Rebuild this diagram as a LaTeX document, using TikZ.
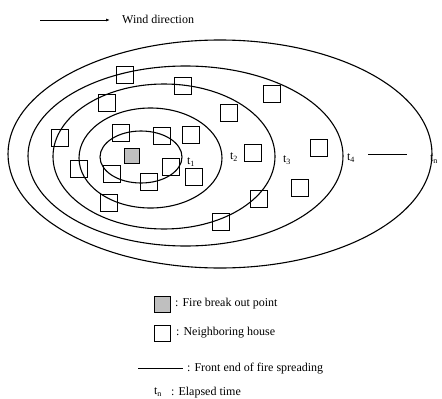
\documentclass[tikz,border=0pt]{standalone}
\usepackage{fontspec}
\setmainfont{Liberation Serif}
\usetikzlibrary{shapes,arrows.meta,positioning}

\tikzset{
  house/.style={rectangle, draw, line width=0.9pt, minimum size=17pt, inner sep=0pt},
  firept/.style={rectangle, draw, line width=0.9pt, fill=gray!50, minimum size=15pt, inner sep=0pt},
  front/.style={ellipse, draw, line width=1.1pt, inner sep=0pt},
  lbl/.style={font=\fontsize{12}{14}\selectfont, inner sep=0pt}
}

\begin{document}
\begin{tikzpicture}[x=1pt,y=-1pt]
\useasboundingbox (0,0) rectangle (442,399);

% wind
\coordinate (windstart) at (40,20);
\coordinate (windend) at (110,20);
\draw[line width=0.9pt,-{Latex[length=4pt,width=3pt]}] (windstart) -- (windend);
\node[lbl, right] (wind) at (122,19) {Wind direction};

% fire fronts
\node[front, minimum width=424pt, minimum height=228pt] (tnzone) at (220,154) {};
\node[front, minimum width=315pt, minimum height=180pt] (t4zone) at (185.5,156) {};
\node[front, minimum width=222pt, minimum height=145pt] (t3zone) at (164,156.5) {};
\node[front, minimum width=143pt, minimum height=100pt] (t2zone) at (150.5,158) {};
\node[front, minimum width=82pt, minimum height=52pt] (t1zone) at (141,157) {};

\node[lbl] (t1) at (191,162) {t\textsubscript{1}};
\node[lbl] (t2) at (234,157) {t\textsubscript{2}};
\node[lbl] (t3) at (287,160) {t\textsubscript{3}};
\node[lbl] (t4) at (351,158) {t\textsubscript{4}};
\node[lbl] (tn) at (434,159) {t\textsubscript{n}};
\coordinate (gapl) at (368,154);
\coordinate (gapr) at (407,154);
\draw[line width=0.9pt] (gapl) -- (gapr);

% houses
\node[firept] (fire) at (132,156) {};
\node[house] (h1) at (125,75) {};
\node[house] (h2) at (183,86) {};
\node[house] (h3) at (272,94) {};
\node[house] (h4) at (107,103) {};
\node[house] (h5) at (229,113) {};
\node[house] (h6) at (60,138) {};
\node[house] (h7) at (121,133) {};
\node[house] (h8) at (162,136) {};
\node[house] (h9) at (191,135) {};
\node[house] (h10) at (253,153) {};
\node[house] (h11) at (319,148) {};
\node[house] (h12) at (79,169) {};
\node[house] (h13) at (112,174) {};
\node[house] (h14) at (171,167) {};
\node[house] (h15) at (194,177) {};
\node[house] (h16) at (149,182) {};
\node[house] (h17) at (300,188) {};
\node[house] (h18) at (259,199) {};
\node[house] (h19) at (109,203) {};
\node[house] (h20) at (221,222) {};

% legend
\node[firept, minimum size=16pt] (keyfire) at (162,304) {};
\node[lbl, right] (keyfiretxt) at (175,304) {: Fire break out point};
\node[house, minimum size=16pt] (keyhouse) at (162,333) {};
\node[lbl, right] (keyhousetxt) at (176,333) {: Neighboring house};
\coordinate (keyl) at (138,368);
\coordinate (keyr) at (183,368);
\draw[line width=0.9pt] (keyl) -- (keyr);
\node[lbl, right] (keyfront) at (187,369) {: Front end of fire spreading};
\node[lbl] (keyt) at (158,392) {t\textsubscript{n}};
\node[lbl, right] (keyttxt) at (171,393) {: Elapsed time};
\end{tikzpicture}
\end{document}
